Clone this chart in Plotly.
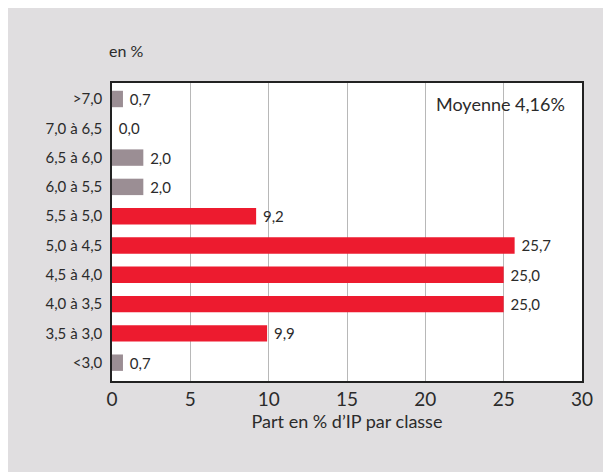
import plotly.graph_objects as go

COR_VERMELHO = "#ED1B2F"
COR_CINZA = "#9B8E94"
COR_FUNDO = "#E0DEE0"
COR_TEXTO = "#2B2B2B"
FONTE = "Lato, 'Open Sans', sans-serif"

classes = ['>7,0', '7,0 à 6,5', '6,5 à 6,0', '6,0 à 5,5', '5,5 à 5,0',
           '5,0 à 4,5', '4,5 à 4,0', '4,0 à 3,5', '3,5 à 3,0', '<3,0']
parts = [0.7, 0.0, 2.0, 2.0, 9.2, 25.7, 25.0, 25.0, 9.9, 0.7]
classes_centrales = ['5,5 à 5,0', '5,0 à 4,5', '4,5 à 4,0', '4,0 à 3,5', '3,5 à 3,0']
moyenne = "4,16"

couleurs = [COR_VERMELHO if c in classes_centrales else COR_CINZA for c in classes]

fig = go.Figure()
fig.add_trace(go.Bar(
    x=parts, y=classes, orientation='h',
    marker=dict(color=couleurs, line=dict(width=0)),
    width=0.56,
    texttemplate='\u00a0%{x:.1f}', textposition='outside', constraintext='none',
    textfont=dict(size=15, color=COR_TEXTO, family=FONTE),
    cliponaxis=False, hoverinfo='skip'
))

# la page ajoute 8 px de marge : la figure fait donc 603 x 464
fig.update_layout(
    width=603, height=464,
    margin=dict(l=104, r=29, t=75, b=91),
    paper_bgcolor=COR_FUNDO, plot_bgcolor='white',
    separators=', ',
    showlegend=False,
    font=dict(family=FONTE, color=COR_TEXTO),
    annotations=[
        dict(text='en %', xref='paper', yref='paper', x=-0.01, y=1.11,
             xanchor='left', yanchor='middle', showarrow=False,
             font=dict(size=16, color=COR_TEXTO)),
        dict(text=f'Moyenne {moyenne}%', xref='paper', yref='paper', x=0.968, y=0.93,
             xanchor='right', yanchor='middle', showarrow=False,
             font=dict(size=18, color=COR_TEXTO)),
    ],
)

fig.update_xaxes(
    range=[0, 30], dtick=5, showgrid=True, gridcolor='#B8B8B8', gridwidth=1,
    zeroline=False, showline=True, linecolor='#222222', linewidth=1.5, mirror=True,
    ticks='', tickfont=dict(size=19, color=COR_TEXTO),
    title=dict(text="Part en % d’IP par classe", font=dict(size=18, color=COR_TEXTO), standoff=7),
)
fig.update_yaxes(
    type='category', categoryorder='array', categoryarray=classes,
    range=[9.625, -0.546], showgrid=False, zeroline=False,
    showline=True, linecolor='#222222', linewidth=1.5, mirror=True,
    ticks='outside', ticklen=5, tickcolor='rgba(0,0,0,0)',
    tickfont=dict(size=15, color=COR_TEXTO),
)

fig.write_html("out.html")
